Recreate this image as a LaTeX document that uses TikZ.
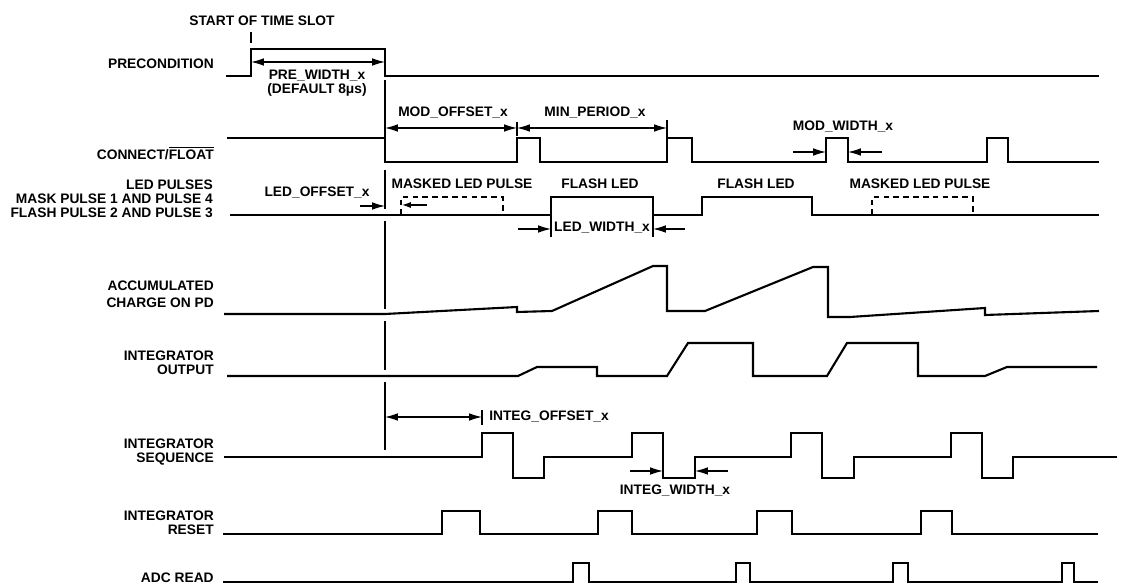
\documentclass[tikz,border=0pt]{standalone}
\usepackage{fontspec}
\setmainfont{Liberation Sans}
\usetikzlibrary{arrows.meta}

\begin{document}
\begin{tikzpicture}[x=0.025cm, y=-0.025cm,
  wave/.style={line width=1.5pt, line join=miter},
  dim/.style={line width=0.8pt},
  arr/.style={dim, -{Latex[length=3.2mm,width=1.9mm]}},
  darr/.style={dim, {Latex[length=3.2mm,width=1.9mm]}-{Latex[length=3.2mm,width=1.9mm]}},
  mask/.style={line width=1.1pt, dash pattern=on 4pt off 3pt},
  sig/.style={font=\fontsize{9.8}{10}\selectfont\bfseries, anchor=east, align=right, inner sep=0pt},
  lbl/.style={font=\fontsize{9.8}{10}\selectfont\bfseries, inner sep=0pt, align=center},
]
\useasboundingbox (0,0) rectangle (1134,584);
% --- signal names ---
\node[sig] (pre) at (214,64) {PRECONDITION};
\node[sig] (con) at (214,153) {CONNECT/$\overline{\mbox{FLOAT}}$};
\node[sig] (led) at (213,199) {LED PULSES\\MASK PULSE 1 AND PULSE 4\\FLASH PULSE 2 AND PULSE 3};
\node[sig] (acc) at (214,294) {ACCUMULATED\\[2pt]CHARGE ON PD};
\node[sig] (out) at (214,363) {INTEGRATOR\\OUTPUT};
\node[sig] (seq) at (214,452) {INTEGRATOR\\SEQUENCE};
\node[sig] (rst) at (214,523) {INTEGRATOR\\RESET};
\node[sig] (adc) at (214,578) {ADC READ};
% --- waveforms ---
\draw[wave] (226,76) -- (251,76) -- (251,49) -- (385,49) -- (385,76) -- (1099,76);
\draw[wave] (227,138) -- (385,138) -- (385,162) -- (517,162) -- (517,138) -- (540,138)
  -- (540,162) -- (667,162) -- (667,138) -- (692,138) -- (692,162) -- (826,162)
  -- (826,138) -- (848,138) -- (848,162) -- (987,162) -- (987,138) -- (1008,138)
  -- (1008,162) -- (1099,162);
\draw[wave] (230,215) -- (551,215) -- (551,197) -- (653,197) -- (653,215) -- (702,215)
  -- (702,197) -- (812,197) -- (812,215) -- (1099,215);
\draw[mask] (401,215) -- (401,197) -- (503,197) -- (503,215);
\draw[mask] (872,215) -- (872,197) -- (973,197) -- (973,215);
\draw[wave] (224,314) -- (385,314) -- (517,307) -- (517,312) -- (552,311) -- (653,266)
  -- (667,266) -- (667,311) -- (705,311) -- (813,267) -- (828,267) -- (828,317)
  -- (850,317) -- (985,308) -- (985,315) -- (1099,311);
\draw[wave] (227,376) -- (518,376) -- (537,367) -- (597,367) -- (597,376) -- (667,376)
  -- (688,343) -- (753,343) -- (753,376) -- (827,376) -- (847,343) -- (918,343)
  -- (918,376) -- (985,376) -- (1007,367) -- (1097,367);
\draw[wave] (224,457) -- (482,457) -- (482,433) -- (513,433) -- (513,478) -- (544,478)
  -- (544,457) -- (632,457) -- (632,433) -- (663,433) -- (663,478) -- (695,478)
  -- (695,457) -- (791,457) -- (791,433) -- (822,433) -- (822,478) -- (854,478)
  -- (854,457) -- (951,457) -- (951,433) -- (982,433) -- (982,478) -- (1013,478)
  -- (1013,457) -- (1117,457);
\draw[wave] (223,534) -- (442,534) -- (442,511) -- (480,511) -- (480,534) -- (598,534)
  -- (598,511) -- (632,511) -- (632,534) -- (757,534) -- (757,511) -- (792,511)
  -- (792,534) -- (921,534) -- (921,511) -- (952,511) -- (952,534) -- (1098,534);
\draw[wave] (223,582) -- (573,582) -- (573,563) -- (589,563) -- (589,582) -- (736,582)
  -- (736,563) -- (750,563) -- (750,582) -- (893,582) -- (893,563) -- (908,563)
  -- (908,582) -- (1062,582) -- (1062,563) -- (1074,563) -- (1074,582) -- (1098,582);
% --- time markers ---
\draw[dim] (251,32) -- (251,43);
\foreach \a/\b in {80/163, 170/209, 221/309, 321/370, 382/450}
  \draw[dim] (385,\a) -- (385,\b);
\draw[dim] (517,122) -- (517,136);
\draw[dim] (667,120) -- (667,138);
\draw[dim] (551,215) -- (551,237);
\draw[dim] (653,215) -- (653,237);
\draw[dim] (482,410) -- (482,425);
% --- dimension arrows ---
\coordinate (slotL) at (251,62);  \coordinate (slotR) at (385,62);
\coordinate (modA) at (385,128);  \coordinate (modB) at (517,128);
\coordinate (modC) at (667,128);
\coordinate (mwL) at (793,152);   \coordinate (mwA) at (826,152);
\coordinate (mwR) at (882,152);   \coordinate (mwB) at (848,152);
\coordinate (loL) at (360,206);   \coordinate (loR) at (385,206);
\coordinate (mkA) at (427,205);   \coordinate (mkB) at (402,205);
\coordinate (lwL) at (518,229);   \coordinate (lwA) at (551,229);
\coordinate (lwR) at (685,229);   \coordinate (lwB) at (653,229);
\coordinate (ioA) at (385,417);   \coordinate (ioB) at (482,417);
\coordinate (iwL) at (630,471);   \coordinate (iwA) at (663,471);
\coordinate (iwR) at (728,471);   \coordinate (iwB) at (695,471);
\draw[darr] (slotL) -- (slotR);
\draw[darr] (modA) -- (modB);
\draw[darr] (modB) -- (modC);
\draw[arr] (mwL) -- (mwA);
\draw[arr] (mwR) -- (mwB);
\draw[arr] (loL) -- (loR);
\draw[dim, -{Latex[length=2.2mm,width=1.5mm]}] (mkA) -- (mkB);
\draw[arr] (lwL) -- (lwA);
\draw[arr] (lwR) -- (lwB);
\draw[darr] (ioA) -- (ioB);
\draw[arr] (iwL) -- (iwA);
\draw[arr] (iwR) -- (iwB);
% --- labels ---
\node[lbl] (slot) at (262,21) {START OF TIME SLOT};
\node[lbl] (prew) at (317,83.5) {PRE\_WIDTH\_x\\(DEFAULT 8μs)};
\node[lbl] (modoff) at (453,113) {MOD\_OFFSET\_x};
\node[lbl] (minper) at (595,113) {MIN\_PERIOD\_x};
\node[lbl] (modw) at (843,127) {MOD\_WIDTH\_x};
\node[lbl] (mask1) at (462,184) {MASKED LED PULSE};
\node[lbl] (flash1) at (600,184) {FLASH LED};
\node[lbl] (flash2) at (756,184) {FLASH LED};
\node[lbl] (mask2) at (920,184) {MASKED LED PULSE};
\node[lbl] (ledoff) at (317,193) {LED\_OFFSET\_x};
\node[lbl] (ledw) at (602,228) {LED\_WIDTH\_x};
\node[lbl, anchor=west] (intoff) at (489,417) {INTEG\_OFFSET\_x};
\node[lbl] (intw) at (675,491) {INTEG\_WIDTH\_x};
\end{tikzpicture}
\end{document}
